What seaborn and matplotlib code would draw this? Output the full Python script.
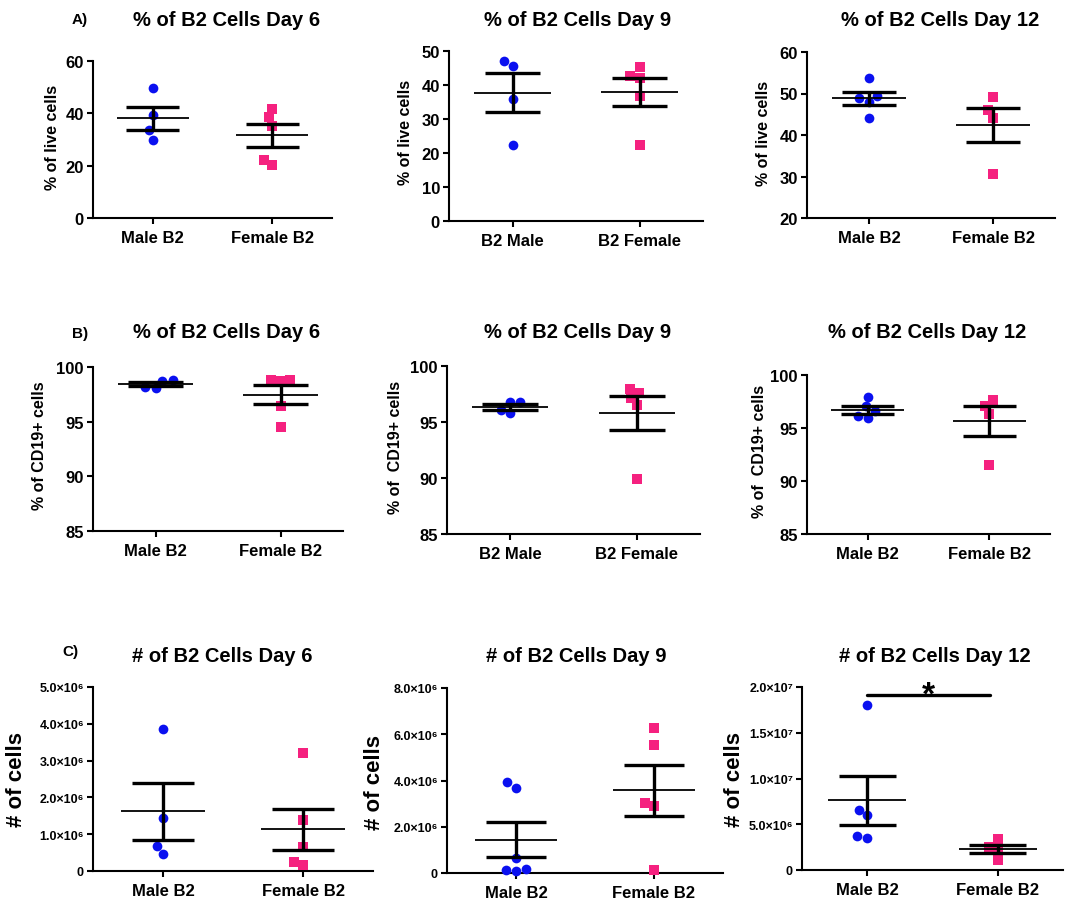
import numpy as np
import pandas as pd
import matplotlib
matplotlib.use("Agg")
import matplotlib.pyplot as plt
import seaborn as sns

# ---------------- data ----------------
cats_mf = ["Male B2", "Female B2"]
cats_b2 = ["B2 Male", "B2 Female"]

live_d6_male = [49.8, 39.2, 33.5, 30.0]
live_d6_female = [41.8, 38.5, 35.2, 20.3, 22.0]
live_d9_male = [47.2, 45.5, 35.8, 22.5]
live_d9_female = [45.3, 42.2, 42.6, 36.8, 22.5]
live_d12_male = [53.8, 49.5, 48.8, 48.0, 44.0]
live_d12_female = [49.2, 46.0, 44.2, 30.6]

cd19_d6_male = [98.72, 98.06, 98.18, 98.79]
cd19_d6_female = [98.85, 98.72, 98.85, 96.39, 94.48]
cd19_d9_male = [96.82, 96.82, 95.78, 96.05]
cd19_d9_female = [97.12, 97.56, 97.92, 96.50, 89.90]
cd19_d12_male = [97.96, 96.57, 97.04, 95.91, 96.10]
cd19_d12_female = [97.10, 97.64, 96.32, 91.54]

num_d6_male = [3.87e6, 1.45e6, 0.68e6, 0.47e6]
num_d6_female = [3.20e6, 1.39e6, 0.65e6, 0.17e6, 0.24e6]
num_d9_male = [3.69e6, 3.92e6, 0.64e6, 0.19e6, 0.09e6, 0.13e6]
num_d9_female = [6.27e6, 5.54e6, 3.01e6, 2.91e6, 0.13e6]
num_d12_male = [18.07e6, 6.61e6, 6.06e6, 3.50e6, 3.76e6]
num_d12_female = [3.39e6, 2.48e6, 2.23e6, 1.13e6]

titles_row_a = ["% of B2 Cells Day 6", "% of B2 Cells Day 9", "% of B2 Cells Day 12"]
titles_row_b = ["% of B2 Cells Day 6", "% of B2 Cells Day 9", "% of B2 Cells Day 12"]
titles_row_c = ["# of B2 Cells Day 6", "# of B2 Cells Day 9", "# of B2 Cells Day 12"]
ylabels_row_a = ["% of live cells", "% of live cells", "% of live cells"]
ylabels_row_b = ["% of CD19+ cells", "% of  CD19+ cells", "% of  CD19+ cells"]
ylabels_row_c = ["# of cells", "# of cells", "# of cells"]

ticks_live_d6 = [0, 20, 40, 60]
ticks_live_d9 = [0, 10, 20, 30, 40, 50]
ticks_live_d12 = [20, 30, 40, 50, 60]
ticks_cd19 = [85, 90, 95, 100]
ticks_num_d6 = [0, 1e6, 2e6, 3e6, 4e6, 5e6]
labels_num_d6 = ["0", "1.0×10⁶", "2.0×10⁶", "3.0×10⁶", "4.0×10⁶", "5.0×10⁶"]
ticks_num_d9 = [0, 2e6, 4e6, 6e6, 8e6]
labels_num_d9 = ["0", "2.0×10⁶", "4.0×10⁶", "6.0×10⁶", "8.0×10⁶"]
ticks_num_d12 = [0, 5e6, 1e7, 1.5e7, 2e7]
labels_num_d12 = ["0", "5.0×10⁶", "1.0×10⁷", "1.5×10⁷", "2.0×10⁷"]

BLUE = "#0a10f0"
PINK = "#f5217f"

# ---------------- style ----------------
sns.set_theme(style="ticks")
plt.rcParams["font.family"] = ["Liberation Sans", "DejaVu Sans"]
plt.rcParams["font.weight"] = "bold"
plt.rcParams["axes.labelweight"] = "bold"
plt.rcParams["text.color"] = "black"
plt.rcParams["axes.labelcolor"] = "black"
plt.rcParams["xtick.color"] = "black"
plt.rcParams["ytick.color"] = "black"

W, H = 1078, 903
fig = plt.figure(figsize=(W / 100, H / 100), dpi=100)


def px_axes(l, r, t, b):
    return fig.add_axes([l / W, 1 - b / H, (r - l) / W, (b - t) / H])


def draw(ax, male, female, cats, yticks, yticklabels=None, ytick_size=12):
    df = pd.DataFrame({
        "group": [cats[0]] * len(male) + [cats[1]] * len(female),
        "value": list(male) + list(female),
    })
    sns.swarmplot(data=df[df["group"] == cats[0]], x="group", y="value", order=cats,
                  color=BLUE, marker="o", size=7, linewidth=0, ax=ax, zorder=3)
    sns.swarmplot(data=df[df["group"] == cats[1]], x="group", y="value", order=cats,
                  color=PINK, marker="s", size=6.5, linewidth=0, ax=ax, zorder=3)
    for coll in ax.collections:
        coll.set_clip_on(False)
    for i, vals in enumerate([male, female]):
        vals = np.asarray(vals)
        m = vals.mean()
        se = vals.std(ddof=1) / np.sqrt(len(vals))
        ax.hlines(m, i - 0.3, i + 0.3, color="black", lw=1.3, zorder=4)
        ax.vlines(i, m - se, m + se, color="black", lw=2.4, zorder=4)
        ax.hlines([m - se, m + se], i - 0.22, i + 0.22, color="black", lw=2.4, zorder=4)
    ax.set_xlim(-0.5, 1.5)
    ax.set_ylim(yticks[0], yticks[-1])
    ax.set_yticks(yticks)
    if yticklabels is not None:
        ax.set_yticklabels(yticklabels)
    ax.set_xlabel("")
    ax.set_ylabel("")
    sns.despine(ax=ax)
    for s in ["left", "bottom"]:
        ax.spines[s].set_linewidth(1.5)
        ax.spines[s].set_color("black")
    ax.tick_params(axis="both", direction="out", length=4.5, width=1.5,
                   colors="black", labelcolor="black")
    ax.tick_params(axis="x", labelsize=12, pad=4)
    ax.tick_params(axis="y", labelsize=ytick_size, pad=2)
    for lab in ax.get_xticklabels() + ax.get_yticklabels():
        lab.set_fontweight("bold")
        lab.set_color("black")


# Row A
axA1 = px_axes(93, 332, 62, 219)
draw(axA1, live_d6_male, live_d6_female, cats_mf, ticks_live_d6)
axA2 = px_axes(449, 703, 52, 222)
draw(axA2, live_d9_male, live_d9_female, cats_b2, ticks_live_d9)
axA3 = px_axes(807, 1055, 53, 219)
draw(axA3, live_d12_male, live_d12_female, cats_mf, ticks_live_d12)

# Row B
axB1 = px_axes(93, 343, 368, 532)
draw(axB1, cd19_d6_male, cd19_d6_female, cats_mf, ticks_cd19)
axB2 = px_axes(447, 700, 367, 535)
draw(axB2, cd19_d9_male, cd19_d9_female, cats_b2, ticks_cd19)
axB3 = px_axes(807, 1050, 376, 535)
draw(axB3, cd19_d12_male, cd19_d12_female, cats_mf, ticks_cd19)

# Row C
axC1 = px_axes(93, 373, 688, 872)
draw(axC1, num_d6_male, num_d6_female, cats_mf, ticks_num_d6, labels_num_d6, ytick_size=9)
axC2 = px_axes(447, 723, 689, 874)
draw(axC2, num_d9_male, num_d9_female, cats_mf, ticks_num_d9, labels_num_d9, ytick_size=9)
axC3 = px_axes(802, 1063, 688, 871)
draw(axC3, num_d12_male, num_d12_female, cats_mf, ticks_num_d12, labels_num_d12, ytick_size=9)

# significance bar on C3
axC3.plot([0, 0.94], [1.91e7, 1.91e7], color="black", lw=2.4, clip_on=False, zorder=5)
axC3.annotate("*", xy=(0.47, 1.91e7), xycoords="data", ha="center", va="center",
              fontsize=24, fontweight="bold", color="black", annotation_clip=False)

# titles
title_pos = [(227, 20), (578, 20), (940, 20),
             (227, 333), (578, 333), (927, 333),
             (222, 656), (576, 656), (935, 656)]
for (x, y), t in zip(title_pos, titles_row_a + titles_row_b + titles_row_c):
    fig.text(x / W, 1 - y / H, t, ha="center", va="center", fontsize=14.5,
             fontweight="bold", color="black")

# panel letters
for (x, y), t in zip([(80, 20), (80, 334), (70, 652)], ["A)", "B)", "C)"]):
    fig.text(x / W, 1 - y / H, t, ha="center", va="center", fontsize=11,
             fontweight="bold", color="black")

# y labels
ylab_pos_a = [(53, 137), (405, 132), (764, 133)]
ylab_pos_b = [(40, 446), (396, 447), (759, 451)]
ylab_pos_c = [(17, 780), (375, 782), (734, 780)]
for (x, y), t in zip(ylab_pos_a + ylab_pos_b, ylabels_row_a + ylabels_row_b):
    fig.text(x / W, 1 - y / H, t, ha="center", va="center", rotation=90,
             fontsize=11.5, fontweight="bold", color="black")
for (x, y), t in zip(ylab_pos_c, ylabels_row_c):
    fig.text(x / W, 1 - y / H, t, ha="center", va="center", rotation=90,
             fontsize=16, fontweight="bold", color="black")

fig.savefig("out.png", dpi=100, facecolor="white")
